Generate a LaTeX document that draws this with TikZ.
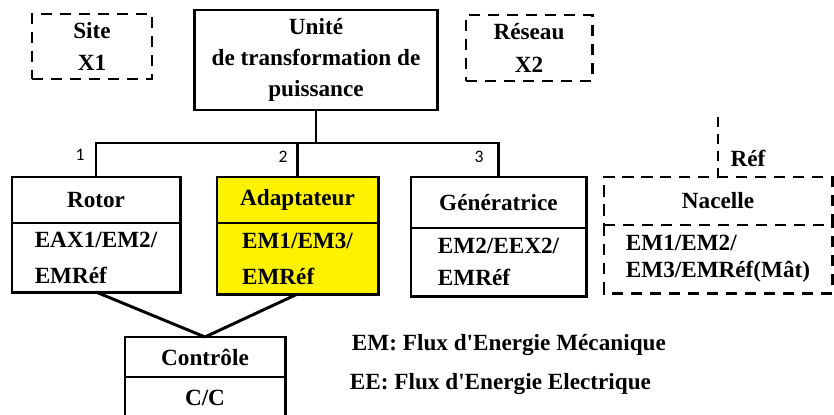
\documentclass[tikz,border=0pt]{standalone}
\usepackage{fontspec}
\setmainfont{Liberation Serif}
\newfontfamily\numfont{Carlito}
\usepackage{tikz}
\usetikzlibrary{positioning}

\begin{document}
\begin{tikzpicture}[x=0.025cm, y=-0.025cm,
    every node/.style={font=\bfseries\fontsize{16.5}{22}\selectfont},
    block/.style={draw, line width=2.1pt, inner sep=0pt, outer sep=0pt, align=center},
    body/.style={block, align=left},
    dblock/.style={block, dash pattern=on 8pt off 5.5pt},
    link/.style={line width=2.1pt},
    dlink/.style={line width=2.1pt, dash pattern=on 8pt off 5.5pt},
    num/.style={font=\numfont\fontsize{12.5}{14}\selectfont}]

\useasboundingbox (0,0) rectangle (834,414);

% Top row
\node[dblock, minimum width=3cm, minimum height=1.625cm] (site) at (92,46.5) {Site\\[1pt]X1};
\node[block, minimum width=6.05cm, minimum height=2.5cm] (unite) at (316,60) {Unité\\de transformation de\\puissance};
\node[dblock, minimum width=3.15cm, minimum height=1.65cm] (reseau) at (529,48) {Réseau\\[1pt]X2};

% Components
\node[block, minimum width=4.2cm, minimum height=1.15cm] (rotor) at (96,200) {Rotor};
\node[body, minimum width=4.2cm, minimum height=1.725cm, below=0pt of rotor] (rotorbody) {EAX1/EM2/\\[3.5pt]EMRéf};

\node[block, fill=yellow, minimum width=4.025cm, minimum height=1.15cm] (adapt) at (297.5,200) {Adaptateur};
\node[body, fill=yellow, minimum width=4.025cm, minimum height=1.775cm, below=0pt of adapt] (adaptbody) {EM1/EM3/\\[3.5pt]EMRéf};

\node[block, minimum width=4.375cm, minimum height=1.275cm] (gen) at (498.5,202.5) {Génératrice};
\node[body, minimum width=4.375cm, minimum height=1.7cm, below=0pt of gen] (genbody) {EM2/EEX2/\\[1pt]EMRéf};

\node[dblock, minimum width=5.7cm, minimum height=1.2cm] (nacelle) at (718,201) {Nacelle};
\node[body, draw=none, minimum width=5.7cm, minimum height=1.7cm, below=0pt of nacelle] (nacbody) {EM1/EM2/\\[-3pt]EM3/EMRéf(Mât)};
\draw[dlink] (nacbody.north west) -- (nacbody.south west) -- (nacbody.south east) -- (nacbody.north east);

% Control
\node[block, minimum width=4cm, minimum height=1cm] (ctrl) at (205,357) {Contrôle};
\node[block, minimum width=4cm, minimum height=1.05cm, below=0pt of ctrl] (ctrlbody) {C/C};

% Tree
\coordinate (bus) at (316,143);
\draw[link] (unite.south) -- (bus);
\draw[link] (rotor.north) |- (bus -| gen.north) -- (gen.north);
\draw[link] (adapt.north) -- (adapt.north |- bus);
\node[num] (n1) at (80,155) {1};
\node[num] (n2) at (283,157) {2};
\node[num] (n3) at (479,157) {3};

\draw[link] (rotorbody.south) -- (ctrl.north);
\draw[link] (adaptbody.south) -- (ctrl.north);

% Ref
\coordinate (refend) at (718,117);
\draw[line width=2.1pt, dash pattern=on 7pt off 5pt] (refend) -- (nacelle.north);
\node (ref) at (748,158) {Réf};

% Legend
\node[anchor=west] (legem) at (347,345) {EM: Flux d\textquotesingle Energie Mécanique};
\node[anchor=west] (legee) at (345,384) {EE: Flux d\textquotesingle Energie Electrique};

\end{tikzpicture}
\end{document}
